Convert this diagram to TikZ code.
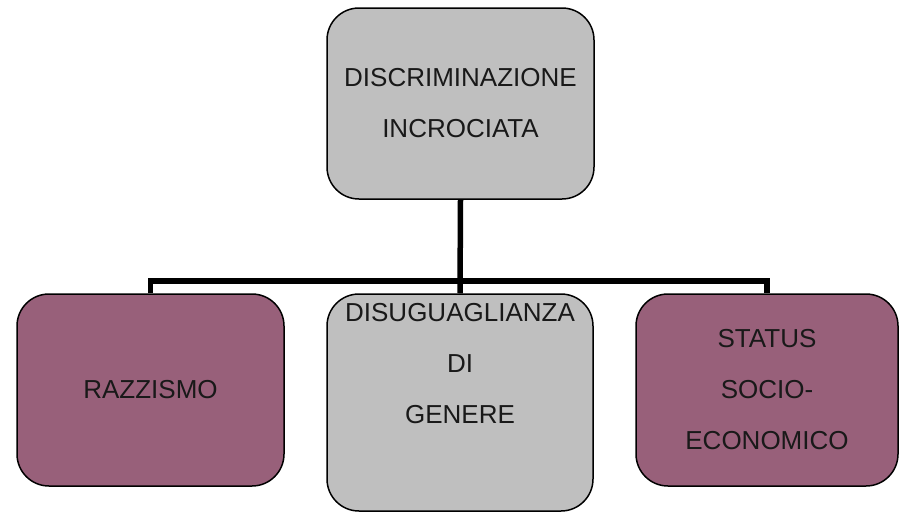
\documentclass[tikz,border=0pt]{standalone}
\usepackage{fontspec}
\setmainfont{Liberation Sans}
\usepackage{tikz}

\definecolor{boxgray}{HTML}{BFBFBF}
\definecolor{boxplum}{HTML}{98607A}

\tikzset{
  levelbox/.style={draw=black, line width=1.5pt, rounded corners=32pt,
    minimum width=267pt, minimum height=192pt, inner sep=0pt,
    align=center, text=black!90,
    font=\fontsize{26}{51}\selectfont},
  boxtext/.style={align=center, text=black!90, inner sep=0pt,
    font=\fontsize{26}{51}\selectfont},
  link/.style={line width=5.5pt, black}
}

\begin{document}
\begin{tikzpicture}[x=1pt, y=-1pt]
                        \useasboundingbox (0,0) rectangle (904,512);
                        % Draw the top box
                        \node[levelbox, fill=boxgray, minimum height=191pt] (top) at (460.5,103.5)
                          {DISCRIMINAZIONE\\INCROCIATA};
                        % Draw the three lower boxes
                        \node[levelbox, fill=boxplum] (razz) at (150.5,390) {RAZZISMO};
                        \node[levelbox, fill=boxgray, minimum width=266pt, minimum height=217pt] (gen) at (460,402.5) {};
                        \node[boxtext] (gentext) at (460,364) {DISUGUAGLIANZA\\DI\\GENERE};
                        \node[levelbox, fill=boxplum, minimum width=262pt] (stat) at (767,390)
                          {STATUS\\SOCIO-\\ECONOMICO};

                        % Draw the connectors
                        \coordinate (bus) at (460,281);
                        \draw[link] (top.south) -- (gen.north);
                        \draw[link] (razz.north) |- (bus) -| (stat.north);
                      \end{tikzpicture}
\end{document}
